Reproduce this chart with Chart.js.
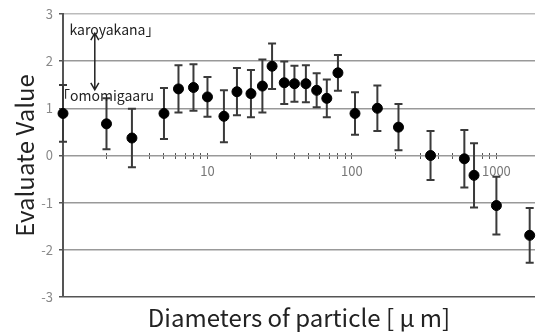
<!DOCTYPE html>
<html>
<head>
<meta charset="utf-8">
<script src="https://cdn.jsdelivr.net/npm/chart.js@4.4.1/dist/chart.umd.min.js"></script>
<style>
  body { margin: 0; background: #fff; }
</style>
</head>
<body>
<canvas id="graficoParticulas" width="541" height="332"></canvas>
<script>
// Diâmetro das partículas [μm] e valor avaliado (média ± desvio)
const diametros = [1, 2, 3, 5, 6.3, 8, 10, 13, 16, 20, 24, 28, 34, 40, 48, 57, 67, 80, 105, 150, 210, 350, 600, 700, 1000, 1700];
const valores = [0.89, 0.67, 0.37, 0.89, 1.41, 1.44, 1.24, 0.83, 1.35, 1.31, 1.47, 1.89, 1.54, 1.52, 1.52, 1.38, 1.21, 1.75, 0.89, 1.00, 0.60, 0.00, -0.07, -0.42, -1.06, -1.69];
const erros = [0.60, 0.54, 0.62, 0.54, 0.50, 0.49, 0.42, 0.55, 0.50, 0.50, 0.56, 0.48, 0.45, 0.38, 0.39, 0.36, 0.40, 0.38, 0.45, 0.48, 0.49, 0.52, 0.61, 0.68, 0.61, 0.58];

// marcas do eixo
const marcasX = [1, 2, 3, 4, 5, 6, 7, 8, 9, 10, 20, 30, 40, 50, 60, 70, 80, 90, 100, 200, 300, 400, 500, 600, 700, 800, 900, 1000];
const rotulosX = [10, 100, 1000];
const rotulosY = [-3, -2, -1, 0, 1, 2, 3];

const fonte = '"Noto Sans CJK JP", "Noto Sans", sans-serif';

// Barras de erro
const barrasErro = {
    id: 'barrasErro',
    beforeDatasetsDraw(chart) {
        const { ctx, scales: { x, y } } = chart;
        ctx.save();
        ctx.strokeStyle = '#3a3a3a';
        ctx.lineWidth = 2;
        diametros.forEach((d, i) => {
            const px = x.getPixelForValue(d);
            const topo = y.getPixelForValue(valores[i] + erros[i]);
            const base = y.getPixelForValue(valores[i] - erros[i]);
            ctx.beginPath();
            ctx.moveTo(px, topo); ctx.lineTo(px, base);
            ctx.moveTo(px - 4, topo); ctx.lineTo(px + 4, topo);
            ctx.moveTo(px - 4, base); ctx.lineTo(px + 4, base);
            ctx.stroke();
        });
        ctx.restore();
    }
};

// Anotações karoyakana / omomigaaru
const anotacoes = {
    id: 'anotacoes',
    afterDraw(chart) {
        const { ctx, scales: { x, y } } = chart;
        ctx.save();
        ctx.fillStyle = '#222';
        ctx.font = '14px ' + fonte;
        ctx.textBaseline = 'middle';
        ctx.fillText('karoyakana」', x.getPixelForValue(1.11), y.getPixelForValue(2.67));
        ctx.fillText('「omomigaaru', x.getPixelForValue(1) - 7, y.getPixelForValue(1.27));

        const ax = x.getPixelForValue(1.66);
        const a1 = y.getPixelForValue(2.59);
        const a2 = y.getPixelForValue(1.39);
        ctx.strokeStyle = '#222';
        ctx.lineWidth = 1.5;
        ctx.beginPath();
        ctx.moveTo(ax, a1); ctx.lineTo(ax, a2);
        ctx.moveTo(ax - 4, a1 + 7); ctx.lineTo(ax, a1); ctx.lineTo(ax + 4, a1 + 7);
        ctx.moveTo(ax - 4, a2 - 7); ctx.lineTo(ax, a2); ctx.lineTo(ax + 4, a2 - 7);
        ctx.stroke();
        ctx.restore();
    }
};

const ctx = document.getElementById('graficoParticulas').getContext('2d');

const config = {
    type: 'scatter',
    data: {
        datasets: [{
            data: diametros.map((d, i) => ({ x: d, y: valores[i] })),
            backgroundColor: '#000',
            borderColor: '#000',
            pointRadius: 5,
            pointHoverRadius: 5,
            clip: false
        }]
    },
    options: {
        responsive: false,
        animation: false,
        layout: { padding: { top: 11, right: 0, left: 0, bottom: 0 } },
        plugins: {
            legend: { display: false },
            tooltip: { enabled: false },
            title: {
                display: true,
                position: 'bottom',
                fullSize: false,
                text: 'Diameters of particle [ μ m]',
                color: '#222',
                font: { size: 24, family: fonte, weight: 'normal' },
                padding: { top: 6, bottom: 0 }
            }
        },
        scales: {
            x: {
                type: 'logarithmic',
                min: 1,
                max: 1850,
                position: { y: 0.06 },
                afterBuildTicks: (s) => { s.ticks = marcasX.map(v => ({ value: v })); },
                ticks: {
                    autoSkip: false,
                    maxRotation: 0,
                    padding: 5,
                    color: '#777',
                    font: { size: 13, family: fonte },
                    callback: (v) => rotulosX.includes(v) ? String(v) : ''
                },
                grid: { drawOnChartArea: false, drawTicks: true, tickLength: 6, color: '#555', lineWidth: 1 },
                border: { display: false }
            },
            y: {
                min: -3,
                max: 3,
                afterBuildTicks: (s) => { s.ticks = rotulosY.map(v => ({ value: v })); },
                afterFit: (s) => { s.width = 63; },
                ticks: { color: '#888', padding: 6, font: { size: 13, family: fonte } },
                grid: {
                    color: (c) => c.tick.value === -3 ? '#555' : (c.tick.value === 3 ? '#bbb' : '#999'),
                    lineWidth: 1.5,
                    tickLength: 4,
                    tickColor: '#555'
                },
                border: { color: '#555', width: 2 },
                title: {
                    display: true,
                    text: 'Evaluate Value',
                    color: '#222',
                    font: { size: 24, family: fonte },
                    padding: { top: 10, bottom: 0 }
                }
            }
        }
    },
    plugins: [barrasErro, anotacoes]
};

const grafico = new Chart(ctx, config);
</script>
</body>
</html>
